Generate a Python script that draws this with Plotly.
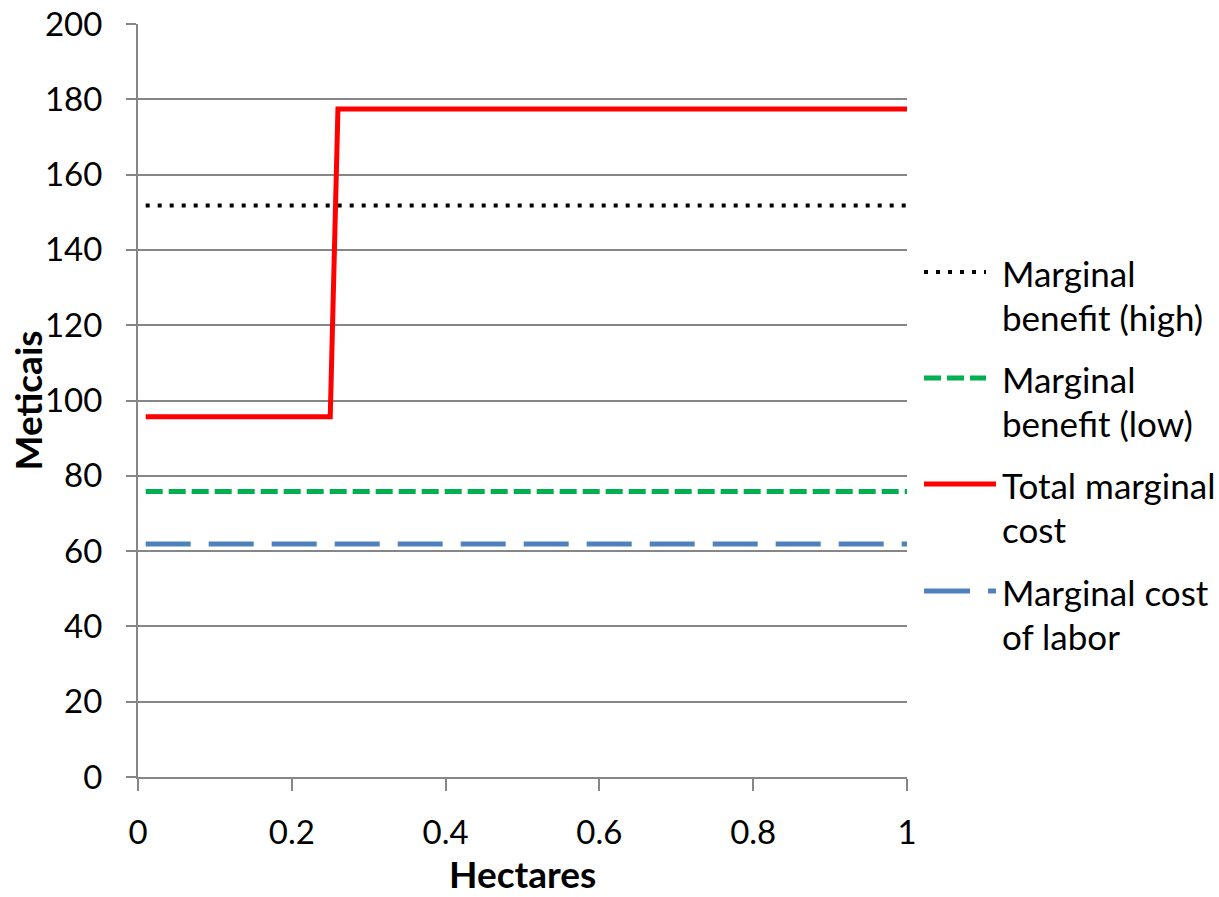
import plotly.graph_objects as go

# ---- data ----
hectares = [0.01, 1.0]
mb_high = [151.8, 151.8]
mb_low = [75.8, 75.8]
tmc_x = [0.01, 0.25, 0.26, 1.0]
tmc_y = [95.7, 95.7, 177.4, 177.4]
mc_labor = [61.9, 61.9]

series_names = ["Marginal<br>benefit (high)", "Marginal<br>benefit (low)",
                "Total marginal<br>cost", "Marginal cost<br>of labor"]
x_ticks = [0, 0.2, 0.4, 0.6, 0.8, 1]
x_tick_text = ["0", "0.2", "0.4", "0.6", "0.8", "1"]
y_ticks = list(range(0, 201, 20))
x_title = "Hectares"
y_title = "Meticais"

FONT = "Lato, 'Open Sans', sans-serif"
styles = [
    dict(color="#000000", width=4, dash="4px,8px"),
    dict(color="#00B050", width=5, dash="17px,6px"),
    dict(color="#FF0000", width=5, dash="solid"),
    dict(color="#4F81BD", width=5, dash="45px,18px"),
]

fig = go.Figure()
fig.add_trace(go.Scatter(x=hectares, y=mb_high, mode="lines", line=styles[0], showlegend=False))
fig.add_trace(go.Scatter(x=hectares, y=mb_low, mode="lines", line=styles[1], showlegend=False))
fig.add_trace(go.Scatter(x=tmc_x, y=tmc_y, mode="lines", line=styles[2], showlegend=False))
fig.add_trace(go.Scatter(x=hectares, y=mc_labor, mode="lines", line=styles[3], showlegend=False))

W, H = 1219, 897
L, R, T, B = 138, 312, 24, 120
pw, ph = W - L - R, H - T - B

def px_x(p):
    return (p - L) / pw

def px_y(p):
    return (H - B - p) / ph

# manual legend (line samples + labels)
leg_y = [272, 378, 484, 591]
leg_x1 = [986, 986, 996, 996]
leg_dash = ["4px,8px", "17px,6px", "solid", "46px,18px"]
for i, yy in enumerate(leg_y):
    st = styles[i]
    fig.add_shape(type="line", xref="paper", yref="paper",
                  x0=px_x(924), x1=px_x(leg_x1[i]), y0=px_y(yy), y1=px_y(yy),
                  line=dict(color=st["color"], width=st["width"], dash=leg_dash[i]))
    for j, part in enumerate(series_names[i].split("<br>")):
        fig.add_annotation(xref="paper", yref="paper", x=px_x(1000), y=px_y(yy + 1 + 44 * j),
                           xanchor="left", yanchor="middle", align="left", showarrow=False,
                           text=part, font=dict(family=FONT, size=35, color="#000"))

# axis titles
fig.add_annotation(xref="paper", yref="paper", x=0.5, y=px_y(874),
                   xanchor="center", yanchor="middle", showarrow=False,
                   text="<b>" + x_title + "</b>", font=dict(family=FONT, size=37, color="#000"))
fig.add_annotation(xref="paper", yref="paper", x=px_x(27), y=0.5, textangle=-90,
                   xanchor="center", yanchor="middle", showarrow=False,
                   text="<b>" + y_title + "</b>", font=dict(family=FONT, size=37, color="#000"))

fig.update_layout(
    width=W, height=H,
    margin=dict(l=L, r=R, t=T, b=B, pad=0),
    paper_bgcolor="white", plot_bgcolor="white",
    font=dict(family=FONT, size=33, color="#000"),
    showlegend=False,
)
fig.update_xaxes(
    range=[0, 1], tickvals=x_ticks, ticktext=x_tick_text, automargin=False,
    showgrid=False, zeroline=False,
    showline=True, linecolor="#868686", linewidth=2,
    ticks="outside", ticklen=12, tickwidth=2, tickcolor="#868686",
    ticklabelstandoff=13,
)
fig.update_yaxes(
    range=[0, 200], tickvals=y_ticks, automargin=False,
    showgrid=True, gridcolor="#868686", gridwidth=2, zeroline=False,
    showline=True, linecolor="#868686", linewidth=2,
    ticks="outside", ticklen=10, tickwidth=2, tickcolor="#868686",
    ticklabelstandoff=17,
)

fig.write_html("out.html")
